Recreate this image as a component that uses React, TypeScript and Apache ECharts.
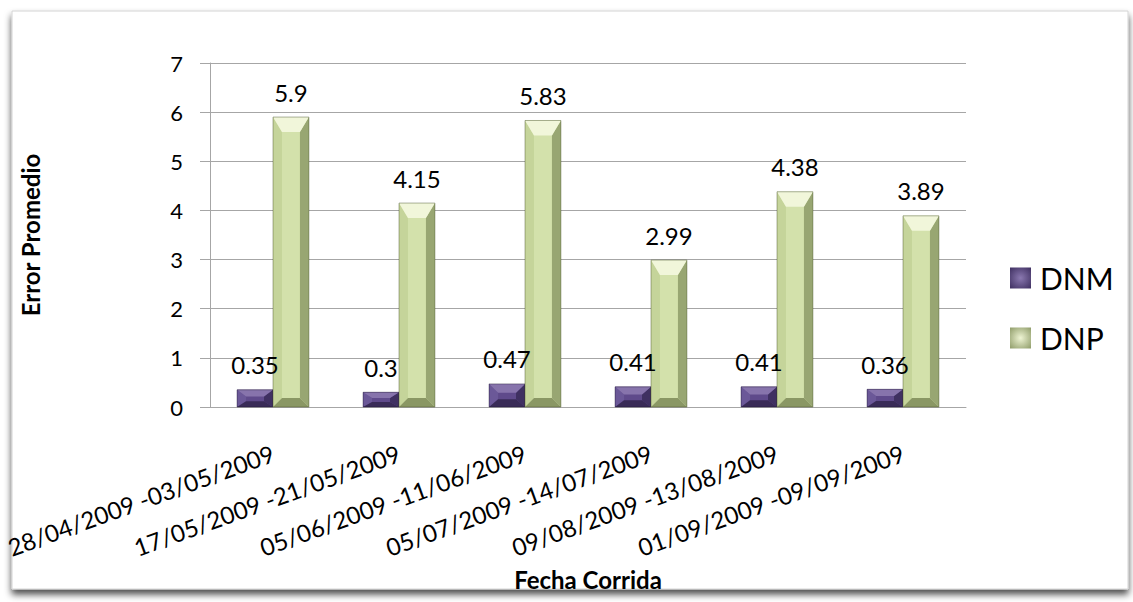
import React, { useEffect, useRef } from "react";
import * as echarts from "echarts";

// Date ranges of each run
const categories = [
  "28/04/2009 -03/05/2009",
  "17/05/2009 -21/05/2009",
  "05/06/2009 -11/06/2009",
  "05/07/2009 -14/07/2009",
  "09/08/2009 -13/08/2009",
  "01/09/2009 -09/09/2009",
];
// Average error per run
const dnmValues = [0.35, 0.3, 0.47, 0.41, 0.41, 0.36];
const dnpValues = [5.9, 4.15, 5.83, 2.99, 4.38, 3.89];

const FONT = "Lato, 'Open Sans', sans-serif";

type Palette = {
  face: string;
  top: string;
  left: string;
  right: string;
  bottom: string;
  edge: string;
};

const dnmPalette: Palette = {
  face: "#5f4a8b",
  top: "#8774ac",
  left: "#6b5898",
  right: "#3f3061",
  bottom: "#392b57",
  edge: "rgba(30,20,50,0.55)",
};

const dnpPalette: Palette = {
  face: "#d3e1ab",
  top: "#f1f6da",
  left: "#c5d49a",
  right: "#98a672",
  bottom: "#8a9764",
  edge: "rgba(70,80,40,0.55)",
};

const BAND_RATIO = 0.285;

// Beveled bar: a face plus four sloped facets, placed by the axis scales
function bevelBar(palette: Palette, side: -1 | 1) {
  return (params: any, api: any) => {
    const idx = api.value(0);
    const val = api.value(1);
    const base = api.coord([idx, 0]);
    const top = api.coord([idx, val]);
    const band = api.size([1, 0])[0];
    const w = band * BAND_RATIO;
    const x0 = side < 0 ? base[0] - w : base[0];
    const x1 = x0 + w;
    const y0 = top[1];
    const y1 = base[1];
    const h = y1 - y0;
    const b = Math.min(9, w / 4);
    const tb = Math.min(15, h / 2.6);
    const bb = Math.min(9, h / 3);
    const poly = (pts: number[][], fill: string) => ({
      type: "polygon",
      shape: { points: pts },
      style: { fill },
    });
    return {
      type: "group",
      children: [
        {
          type: "rect",
          shape: { x: x0, y: y0, width: w, height: h },
          style: { fill: palette.face },
        },
        poly([[x0, y0], [x0 + b, y0 + tb], [x0 + b, y1 - bb], [x0, y1]], palette.left),
        poly([[x1, y0], [x1 - b, y0 + tb], [x1 - b, y1 - bb], [x1, y1]], palette.right),
        poly([[x0, y1], [x1, y1], [x1 - b, y1 - bb], [x0 + b, y1 - bb]], palette.bottom),
        poly([[x0, y0], [x1, y0], [x1 - b, y0 + tb], [x0 + b, y0 + tb]], palette.top),
        {
          type: "rect",
          shape: { x: x0, y: y0, width: w, height: h },
          style: { fill: "none", stroke: palette.edge, lineWidth: 0.8 },
        },
        {
          type: "text",
          z2: 100,
          style: {
            text: String(val),
            x: (x0 + x1) / 2,
            y: y0 - 13,
            textAlign: "center",
            textVerticalAlign: "bottom",
            fontSize: 24,
            fontFamily: FONT,
            fill: "#000",
          },
        },
      ],
    };
  };
}

const iconGradient = (light: string, dark: string) =>
  new echarts.graphic.RadialGradient(0.5, 0.5, 0.7, [
    { offset: 0, color: light },
    { offset: 1, color: dark },
  ]);

export default function App() {
  const ref = useRef<HTMLDivElement>(null);

  useEffect(() => {
    if (!ref.current) return;
    const chart = echarts.init(ref.current, null, { renderer: "svg" });
    chart.setOption({
      animation: false,
      backgroundColor: "#ffffff",
      textStyle: { fontFamily: FONT },
      graphic: [
        {
          type: "rect",
          z: -10,
          shape: { x: 12, y: 11, width: 1116, height: 578 },
          style: {
            fill: "#ffffff",
            stroke: "#d4d4d4",
            lineWidth: 1,
            shadowBlur: 7,
            shadowOffsetY: 5,
            shadowColor: "rgba(0,0,0,0.7)",
          },
        },
      ],
      grid: { left: 210, right: 167, top: 63, bottom: 195 },
      legend: {
        orient: "vertical",
        left: 1005,
        top: 258,
        itemWidth: 21,
        itemHeight: 21,
        itemGap: 30,
        icon: "rect",
        textStyle: {
          fontSize: 30,
          fontFamily: FONT,
          color: "#000",
          padding: [0, 0, 0, 4],
        },
        data: [
          { name: "DNM", itemStyle: { color: iconGradient("#8a78b0", "#3e2f60") } },
          { name: "DNP", itemStyle: { color: iconGradient("#eef4d3", "#8f9c69") } },
        ],
      },
      xAxis: {
        type: "category",
        data: categories,
        name: "Fecha Corrida",
        nameLocation: "middle",
        nameGap: 160,
        nameTextStyle: { fontSize: 24, fontWeight: "bold", color: "#000", fontFamily: FONT },
        axisLine: { lineStyle: { color: "#a6a6a6", width: 1 } },
        axisTick: { show: false },
        axisLabel: {
          interval: 0,
          rotate: 20,
          margin: 45,
          fontSize: 24,
          color: "#000",
          fontFamily: FONT,
        },
      },
      yAxis: {
        type: "value",
        min: 0,
        max: 7,
        interval: 1,
        name: "Error Promedio",
        nameLocation: "middle",
        nameGap: 168,
        nameTextStyle: { fontSize: 24, fontWeight: "bold", color: "#000", fontFamily: FONT },
        axisLine: { show: true, lineStyle: { color: "#a6a6a6", width: 1 } },
        axisTick: { show: true, length: 10, lineStyle: { color: "#a6a6a6" } },
        axisLabel: { margin: 27, fontSize: 22, color: "#000", fontFamily: FONT },
        splitLine: { lineStyle: { color: "#a6a6a6", width: 1 } },
      },
      series: [
        {
          name: "DNM",
          type: "custom",
          itemStyle: { color: "#5f4a8b" },
          encode: { x: 0, y: 1 },
          data: dnmValues.map((v, i) => [i, v]),
          renderItem: bevelBar(dnmPalette, -1),
        },
        {
          name: "DNP",
          type: "custom",
          itemStyle: { color: "#c3d69b" },
          encode: { x: 0, y: 1 },
          data: dnpValues.map((v, i) => [i, v]),
          renderItem: bevelBar(dnpPalette, 1),
        },
      ],
    });
    return () => chart.dispose();
  }, []);

  return (
    <div
      ref={ref}
      style={{ position: "absolute", left: 0, top: 0, width: 1133, height: 602 }}
    />
  );
}
